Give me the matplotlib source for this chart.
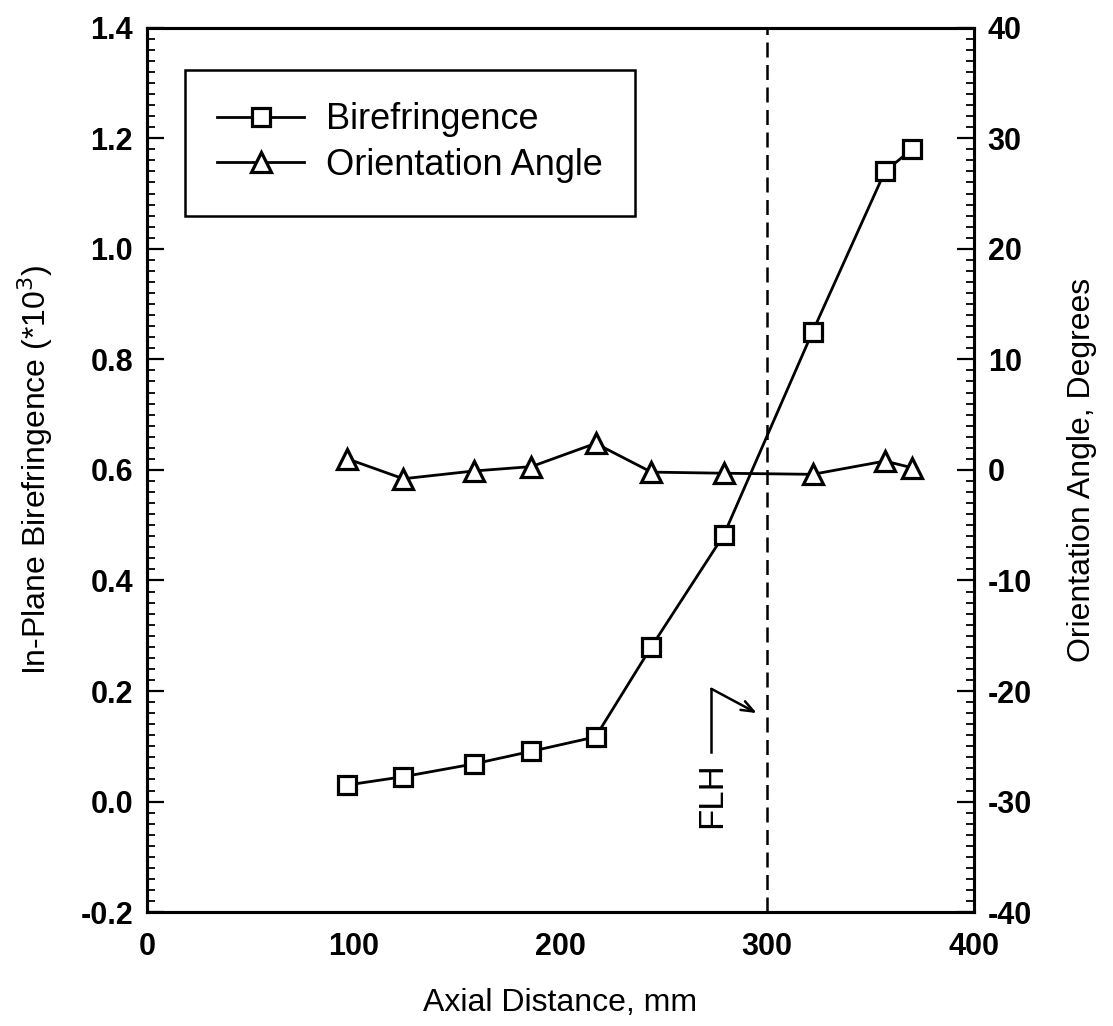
import matplotlib.pyplot as plt
from matplotlib.ticker import MultipleLocator

# Data
axial_mm = [97, 124, 158, 186, 217, 244, 279, 322, 357, 370]
birefringence = [0.030, 0.045, 0.068, 0.091, 0.117, 0.280, 0.482, 0.850, 1.140, 1.180]
orientation_deg = [1.0, -0.8, -0.1, 0.3, 2.4, -0.2, -0.3, -0.4, 0.8, 0.2]

flh_x = 300
flh_label_x = 273
flh_label_y = 0.012
flh_arrow_path = [(273, 0.09), (273, 0.204)]
flh_arrow_tip = (295, 0.16)

plt.rcParams["font.family"] = ["Liberation Sans", "DejaVu Sans"]
plt.rcParams["axes.unicode_minus"] = False

fig = plt.figure(figsize=(11.13, 10.26), dpi=100)
ax = fig.add_axes([0.132, 0.111, 0.743, 0.862])
ax2 = ax.twinx()

# Birefringence on left axis
l1, = ax.plot(axial_mm, birefringence, color="black", lw=2.0, marker="s",
              ms=13, mfc="white", mec="black", mew=2.3, label="Birefringence")

# Orientation angle on right axis
l2, = ax2.plot(axial_mm, orientation_deg, color="black", lw=2.0, marker="^",
               ms=15, mfc="white", mec="black", mew=2.3, label="Orientation Angle")

# FLH marker line and note
ax.axvline(flh_x, color="black", lw=1.8, ls=(0, (6, 3)))
ax.text(flh_label_x, flh_label_y, "FLH", rotation=90, ha="center", va="center",
        fontsize=25)
ax.plot([p[0] for p in flh_arrow_path], [p[1] for p in flh_arrow_path],
        color="black", lw=1.8)
ax.annotate("", xy=flh_arrow_tip, xytext=flh_arrow_path[-1],
            arrowprops=dict(arrowstyle="->,head_length=0.9,head_width=0.35",
                            color="black", lw=1.8, shrinkA=0, shrinkB=0))

ax.set_xlim(0, 400)
ax.set_ylim(-0.2, 1.4)
ax2.set_ylim(-40, 40)

ax.xaxis.set_major_locator(MultipleLocator(100))
ax.yaxis.set_major_locator(MultipleLocator(0.2))
ax.yaxis.set_minor_locator(MultipleLocator(0.02))
ax2.yaxis.set_major_locator(MultipleLocator(10))
ax2.yaxis.set_minor_locator(MultipleLocator(1))

ax.yaxis.set_major_formatter(lambda v, pos: f"{v:.1f}")

for a in (ax, ax2):
    for s in a.spines.values():
        s.set_linewidth(2.2)
    a.tick_params(which="major", direction="in", length=12, width=1.6,
                  labelsize=22, pad=10)
    a.tick_params(which="minor", direction="in", length=6, width=1.3)
ax.tick_params(axis="x", which="both", length=0, pad=14)

for lbl in ax.get_xticklabels() + ax.get_yticklabels() + ax2.get_yticklabels():
    lbl.set_fontweight("bold")

ax.set_xlabel("Axial Distance, mm", fontsize=23, labelpad=19)
ax.set_ylabel("In-Plane Birefringence (*10$^3$)", fontsize=23, labelpad=18)
ax2.set_ylabel("Orientation Angle, Degrees", fontsize=23, labelpad=25)

leg = ax.legend(handles=[l1, l2], loc="upper left", bbox_to_anchor=(0.046, 0.9525),
                fontsize=26, fancybox=False, edgecolor="black", framealpha=1,
                handlelength=2.4, borderpad=0.9, handletextpad=0.6,
                labelspacing=0.3, borderaxespad=0)
leg.get_frame().set_linewidth(1.8)

fig.savefig("out.png", dpi=100)
